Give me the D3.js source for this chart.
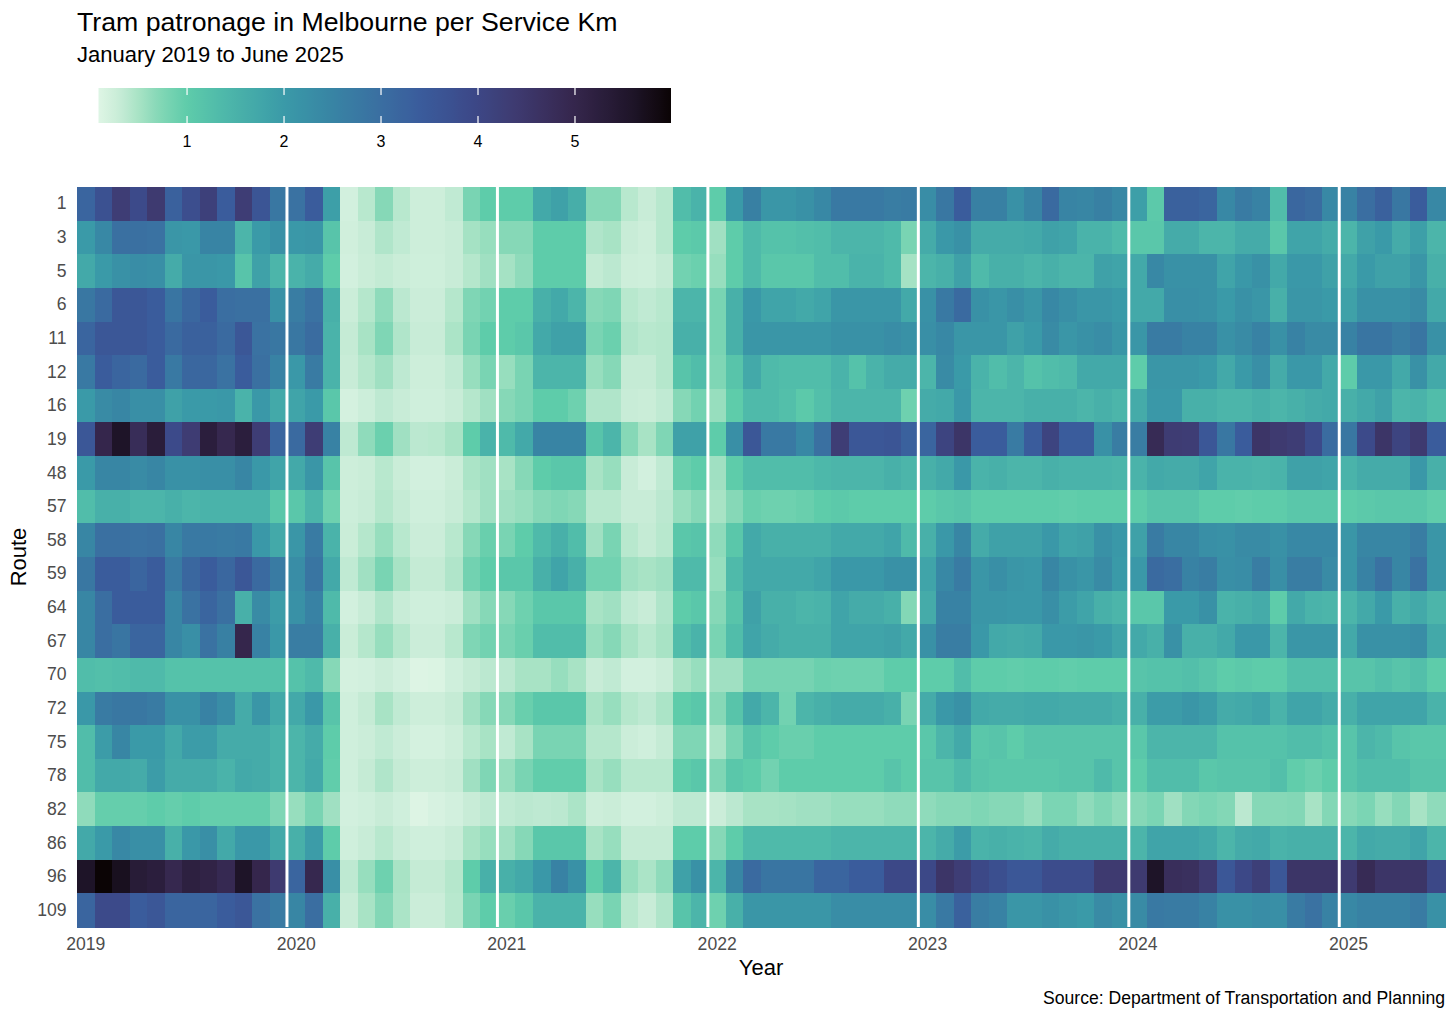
<!DOCTYPE html>
<html><head><meta charset="utf-8">
<script src="https://cdn.jsdelivr.net/npm/d3@7"></script>
<style>
body{margin:0;background:#ffffff;}
svg text{font-family:"Liberation Sans", Arial, Helvetica, sans-serif;}
</style></head>
<body>
<svg id="chart" width="1456" height="1019"></svg>
<script>
// ---------------- data ----------------
const routes = ["1","3","5","6","11","12","16","19","48","57","58","59","64","67","70","72","75","78","82","86","96","109"];
const yearLabels = ["2019","2020","2021","2022","2023","2024","2025"];
const legendTicks = [1, 2, 3, 4, 5];

// monthly values Jan 2019 .. Jun 2025 (78 months) per route
const route1 = [3.2,3.7,4.3,3.9,4.4,3.3,3.8,4.2,3.4,4.3,3.6,2.8, 2.9,3.4,1.9,0.2,0.4,0.7,0.4,0.25,0.25,0.35,0.8,1.0, 1.0,1.0,1.7,1.85,1.6,0.7,0.7,0.4,0.3,0.4,1.3,1.5, 1.0,2.0,2.6,2.1,2.1,2.2,2.4,2.75,2.75,2.75,2.65,2.7, 2.3,2.8,3.4,2.6,2.6,2.2,2.5,3.1,2.5,2.45,2.6,2.4, 1.9,1.05,3.3,3.3,3.2,2.4,2.7,2.55,1.3,3.15,3.05,2.4, 2.55,3.0,3.3,2.8,3.4,2.4];
const route3 = [2.0,2.4,2.95,2.95,2.9,2.1,2.05,2.5,2.5,1.45,2.0,2.2, 2.05,2.1,1.15,0.22,0.3,0.45,0.35,0.25,0.25,0.3,0.52,0.6, 0.7,0.7,1.0,1.0,1.0,0.45,0.5,0.3,0.25,0.4,1.0,1.05, 0.55,1.0,1.35,1.2,1.2,1.25,1.3,1.45,1.45,1.45,1.35,0.8, 1.65,2.05,2.2,1.65,1.65,1.65,1.7,1.85,1.8,1.5,1.5,1.35, 1.1,1.1,1.65,1.65,1.45,1.45,1.65,1.65,1.1,1.8,1.8,1.65, 1.45,1.85,2.0,1.65,1.9,1.45];
const route5 = [1.7,2.0,2.2,2.3,2.25,1.65,2.1,2.1,2.05,1.15,1.85,1.45, 1.5,1.65,1.0,0.2,0.28,0.33,0.28,0.24,0.24,0.3,0.42,0.55, 0.52,0.65,1.0,1.0,1.0,0.33,0.38,0.25,0.24,0.32,0.85,0.9, 0.6,1.0,1.35,1.1,1.1,1.1,1.3,1.3,1.5,1.5,1.35,0.52, 1.45,1.55,1.85,1.35,1.55,1.55,1.45,1.55,1.45,1.45,1.85,1.8, 1.7,2.4,2.2,2.2,2.2,1.8,2.05,2.2,1.7,2.05,2.05,1.85, 1.7,2.0,1.85,1.85,2.1,1.55];
const route6 = [2.8,3.1,3.55,3.55,3.4,2.85,3.15,3.4,3.0,2.95,2.95,2.2, 2.65,2.9,1.55,0.27,0.42,0.65,0.38,0.27,0.27,0.42,0.75,0.85, 1.0,1.0,1.55,1.7,1.45,0.7,0.75,0.4,0.35,0.4,1.45,1.45, 0.8,1.55,2.05,1.8,1.8,1.7,1.8,2.1,2.1,2.1,2.1,1.7, 2.2,2.75,3.1,2.2,2.1,2.25,2.1,2.4,2.25,2.1,2.1,2.0, 1.7,1.7,2.25,2.25,2.2,2.0,2.2,2.1,1.55,2.1,2.1,2.0, 1.85,2.2,2.2,2.2,2.35,1.7];
const route11 = [3.2,3.55,3.55,3.55,3.4,3.1,3.3,3.3,3.1,3.55,2.9,2.8, 2.8,3.05,1.5,0.32,0.5,0.75,0.45,0.3,0.3,0.48,0.8,1.0, 1.0,1.1,1.7,1.85,1.85,0.8,0.9,0.45,0.4,0.42,1.55,1.55, 0.8,1.55,2.1,2.1,2.1,2.1,2.1,2.2,2.2,2.2,2.3,2.2, 2.25,2.4,2.1,2.1,2.1,1.85,2.0,2.35,2.1,2.2,2.3,2.1, 2.1,2.7,2.7,2.55,2.55,2.2,2.35,2.55,2.2,2.55,2.35,2.35, 2.55,2.85,2.85,2.65,2.85,2.2];
const route12 = [2.75,3.4,3.2,3.1,3.4,2.75,3.15,3.15,2.9,3.4,2.95,2.55, 2.05,2.7,1.5,0.3,0.42,0.55,0.36,0.25,0.25,0.35,0.6,0.8, 0.6,0.8,1.45,1.45,1.45,0.6,0.7,0.32,0.32,0.42,1.15,1.3, 0.75,1.15,1.7,1.35,1.3,1.3,1.3,1.5,1.2,1.5,1.65,1.65, 1.45,2.35,2.0,1.5,1.3,1.45,1.2,1.3,1.35,1.7,1.7,1.7, 1.0,2.1,2.1,2.1,2.0,1.7,2.0,2.25,1.65,2.05,2.05,1.7, 1.0,2.05,2.05,1.7,2.2,1.7];
const route16 = [2.0,2.35,2.45,2.25,2.25,1.85,2.0,2.0,2.05,1.5,2.05,1.7, 1.8,2.0,1.1,0.18,0.26,0.36,0.3,0.23,0.23,0.3,0.42,0.55, 0.7,0.8,1.0,1.0,0.88,0.45,0.45,0.3,0.28,0.35,0.7,0.85, 0.6,1.0,1.35,1.35,1.25,1.05,1.25,1.45,1.45,1.45,1.45,0.88, 1.65,1.7,2.05,1.45,1.45,1.45,1.55,1.55,1.55,1.45,1.55,1.45, 1.65,2.05,2.05,1.55,1.55,1.45,1.45,1.55,1.45,1.55,1.65,1.7, 1.55,1.7,1.85,1.45,1.5,1.3];
const route19 = [3.55,5.0,5.6,4.8,5.3,3.9,4.35,5.25,4.95,5.25,4.3,3.2, 3.1,4.3,2.55,0.36,0.65,0.9,0.55,0.38,0.4,0.5,1.0,1.5, 1.35,1.7,2.5,2.5,2.5,1.15,1.45,0.7,0.5,0.75,1.85,1.85, 1.0,2.25,3.55,2.75,2.75,2.4,2.95,4.3,3.55,3.55,3.6,3.3, 3.2,4.1,4.55,3.4,3.4,2.7,3.4,4.1,3.4,3.4,2.2,2.65, 2.65,4.85,4.35,4.3,3.55,2.8,3.4,4.55,4.4,4.3,3.9,3.05, 2.8,3.9,4.55,4.1,4.4,3.4];
const route48 = [2.0,2.45,2.45,2.35,2.45,2.2,2.2,2.25,2.25,2.45,2.05,1.8, 1.7,2.1,1.15,0.25,0.28,0.4,0.28,0.2,0.2,0.28,0.48,0.55, 0.5,0.7,1.0,1.1,1.1,0.5,0.6,0.3,0.2,0.35,0.92,1.0, 0.55,1.0,1.3,1.3,1.3,1.3,1.4,1.45,1.45,1.45,1.55,1.45, 1.55,1.7,2.05,1.5,1.55,1.45,1.45,1.55,1.5,1.5,1.5,1.45, 1.5,1.7,1.65,1.65,1.8,1.5,1.5,1.45,1.5,1.85,1.85,1.8, 1.5,1.65,1.65,1.65,2.05,1.55];
const route57 = [1.3,1.55,1.55,1.45,1.45,1.55,1.45,1.5,1.5,1.5,1.5,1.1, 1.1,1.45,0.88,0.26,0.3,0.42,0.32,0.23,0.23,0.3,0.42,0.55, 0.55,0.6,0.7,0.75,0.7,0.4,0.4,0.3,0.3,0.38,0.6,0.7, 0.5,0.7,0.92,0.88,0.88,0.92,1.0,1.05,1.0,1.0,1.0,1.0, 1.0,1.1,1.15,1.0,1.0,1.0,1.0,1.0,0.98,1.0,1.0,1.0, 1.0,1.15,1.15,1.15,1.0,1.0,0.98,1.0,1.0,1.1,1.1,1.1, 1.0,1.05,1.1,1.1,1.1,0.98];
const route58 = [2.45,2.95,2.95,2.9,2.95,2.45,2.75,2.75,2.7,2.75,2.05,1.7, 2.1,2.7,1.5,0.28,0.42,0.6,0.4,0.27,0.27,0.4,0.7,0.92, 0.8,1.0,1.35,1.55,1.3,0.55,0.8,0.4,0.32,0.4,1.1,1.15, 0.65,1.1,1.7,1.55,1.55,1.55,1.55,1.7,1.7,1.7,1.8,1.35, 1.55,2.05,2.45,1.65,1.85,1.85,1.85,2.05,1.8,1.85,2.2,2.05, 1.85,2.7,2.45,2.45,2.25,2.2,2.35,2.35,2.2,2.4,2.4,2.4, 2.1,2.45,2.45,2.45,2.65,2.1];
const route59 = [2.8,3.4,3.4,3.2,3.4,2.7,3.15,3.4,3.15,3.55,3.1,2.7, 2.3,2.85,1.7,0.35,0.55,0.8,0.5,0.32,0.32,0.45,0.85,1.0, 1.1,1.1,1.55,1.8,1.55,0.85,0.85,0.55,0.5,0.55,1.35,1.35, 0.6,1.35,1.7,1.7,1.7,1.7,1.8,2.05,2.05,2.05,2.2,2.2, 1.8,2.4,2.7,2.1,2.25,2.1,2.05,2.45,2.2,2.1,2.35,2.0, 2.05,3.1,3.0,2.55,2.65,2.25,2.3,2.65,2.25,2.65,2.65,2.35, 2.1,2.55,2.9,2.45,2.9,2.1];
const route64 = [2.45,3.0,3.4,3.4,3.4,2.45,2.9,3.2,2.95,1.55,2.35,1.95, 2.2,2.55,1.35,0.2,0.3,0.45,0.3,0.23,0.23,0.27,0.55,0.7, 0.7,0.88,1.1,1.1,1.1,0.5,0.55,0.35,0.3,0.45,1.0,1.1, 0.7,1.15,1.85,1.55,1.55,1.45,1.5,1.8,1.65,1.65,1.55,0.72, 1.65,2.55,2.55,2.1,2.1,2.05,2.05,2.25,1.95,1.8,1.55,1.45, 1.1,1.1,2.0,2.0,2.2,1.5,1.55,1.65,1.0,1.7,1.5,1.45, 1.45,1.7,2.0,1.55,1.7,1.45];
const route67 = [2.45,3.0,2.85,3.2,3.2,2.45,2.25,2.9,2.6,5.0,2.55,2.05, 2.65,2.65,1.55,0.28,0.42,0.6,0.42,0.27,0.27,0.4,0.75,0.85, 0.8,0.92,1.3,1.3,1.3,0.6,0.7,0.5,0.4,0.5,1.3,1.5, 0.8,1.3,1.8,1.65,1.55,1.55,1.55,1.8,1.8,1.8,1.85,1.7, 2.2,2.65,2.65,2.05,1.7,1.65,1.7,2.05,2.05,2.1,2.0,1.8, 1.7,1.55,2.2,1.55,1.55,1.7,2.05,2.05,1.45,2.1,2.1,2.1, 1.7,2.2,2.2,2.2,2.3,1.7];
const route70 = [1.3,1.25,1.3,1.35,1.35,1.2,1.2,1.2,1.2,1.2,1.2,1.2, 1.2,1.35,0.7,0.18,0.2,0.27,0.2,0.1,0.12,0.23,0.32,0.38, 0.38,0.5,0.5,0.6,0.5,0.3,0.35,0.2,0.2,0.27,0.5,0.6, 0.55,0.55,0.82,0.82,0.82,0.82,0.9,0.88,0.88,0.88,1.0,1.0, 1.0,1.0,1.3,1.0,1.0,0.98,1.0,1.0,0.98,1.0,1.0,1.0, 1.15,1.2,1.2,1.25,1.15,1.0,1.05,1.0,1.0,1.25,1.25,1.25, 1.15,1.15,1.25,1.15,1.25,1.0];
const route72 = [2.05,2.7,2.8,2.8,2.7,2.2,2.2,2.55,2.3,1.65,2.1,1.7, 1.7,2.05,1.15,0.23,0.32,0.5,0.35,0.25,0.25,0.32,0.55,0.7, 0.7,0.92,1.1,1.1,1.1,0.5,0.6,0.42,0.36,0.48,1.0,1.1, 0.7,1.15,1.7,1.45,0.85,1.45,1.55,1.65,1.65,1.65,1.55,0.8, 1.65,2.05,2.2,1.7,1.65,1.65,1.7,1.7,1.65,1.65,1.65,1.55, 1.55,1.95,1.95,2.1,1.95,1.65,1.7,1.8,1.5,1.8,1.8,1.65, 1.55,1.8,1.8,1.8,1.8,1.5];
const route75 = [1.3,1.95,2.45,2.0,2.0,1.7,1.95,1.95,1.65,1.65,1.65,1.5, 1.45,1.65,1.0,0.23,0.27,0.35,0.27,0.18,0.18,0.25,0.4,0.5, 0.35,0.5,0.8,0.8,0.8,0.42,0.42,0.27,0.23,0.32,0.75,0.75, 0.48,0.8,1.15,1.0,0.92,0.92,1.0,1.0,1.0,1.0,1.0,1.0, 1.1,1.45,1.7,1.1,1.15,1.0,1.15,1.15,1.15,1.15,1.15,1.15, 1.1,1.45,1.45,1.45,1.45,1.2,1.2,1.2,1.2,1.3,1.3,1.2, 1.15,1.45,1.35,1.15,1.1,1.1];
const route78 = [1.3,1.7,1.7,1.65,1.95,1.65,1.65,1.65,1.5,1.7,1.65,1.5, 1.45,1.7,0.98,0.23,0.32,0.45,0.32,0.25,0.25,0.3,0.55,0.75, 0.6,0.8,0.98,0.98,0.98,0.5,0.6,0.4,0.4,0.4,1.0,1.1, 0.75,1.1,1.0,0.85,1.0,1.0,1.0,1.0,1.0,1.0,1.15,1.0, 1.15,1.15,1.35,1.15,1.1,1.1,1.1,1.1,1.15,1.15,1.35,1.15, 1.0,1.3,1.3,1.3,1.1,1.15,1.15,1.15,1.25,0.98,0.9,1.0, 1.15,1.3,1.3,1.3,1.15,1.15];
const route82 = [0.65,0.95,0.95,0.95,1.0,0.95,1.0,0.95,0.95,0.95,0.95,0.75, 0.6,0.8,0.55,0.2,0.23,0.3,0.23,0.1,0.15,0.2,0.3,0.36, 0.35,0.38,0.36,0.38,0.48,0.25,0.28,0.2,0.2,0.25,0.36,0.36, 0.27,0.38,0.5,0.5,0.52,0.55,0.55,0.6,0.6,0.6,0.65,0.65, 0.65,0.7,0.7,0.75,0.7,0.7,0.6,0.78,0.78,0.65,0.75,0.65, 0.7,0.78,0.55,0.72,0.78,0.72,0.38,0.7,0.7,0.72,0.5,0.72, 0.7,0.78,0.6,0.72,0.5,0.65];
const route86 = [1.7,2.0,2.4,2.25,2.25,1.55,2.05,2.25,1.7,2.05,2.05,1.7, 1.55,1.95,1.0,0.23,0.3,0.4,0.3,0.23,0.23,0.3,0.5,0.6, 0.55,0.7,1.1,1.1,1.1,0.5,0.6,0.32,0.32,0.32,1.0,1.0, 0.7,1.0,1.35,1.35,1.35,1.35,1.35,1.45,1.45,1.45,1.45,1.45, 1.45,1.65,1.95,1.5,1.55,1.5,1.45,1.65,1.55,1.55,1.55,1.55, 1.45,1.8,1.8,1.8,1.7,1.45,1.65,1.7,1.5,1.55,1.55,1.55, 1.45,1.7,1.65,1.65,1.8,1.45];
const route96 = [5.6,6.0,5.7,5.35,5.25,4.95,5.2,5.1,4.9,5.6,5.0,4.4, 3.2,4.95,2.25,0.36,0.6,0.88,0.5,0.32,0.32,0.42,1.0,1.55, 1.55,1.7,2.05,2.55,2.2,1.0,1.45,0.6,0.48,0.65,1.85,2.2, 1.45,2.45,3.1,2.85,2.85,2.85,3.2,3.2,3.4,3.4,3.95,3.95, 3.95,4.55,4.3,3.95,3.75,3.55,3.55,3.85,3.85,3.85,4.4,4.4, 4.4,5.6,4.75,4.7,4.4,3.55,3.95,4.25,3.55,4.55,4.55,4.55, 4.4,4.85,4.55,4.55,4.55,3.95];
const route109 = [3.2,3.9,3.9,3.4,3.55,3.2,3.2,3.2,3.4,3.55,2.9,2.7, 2.45,3.0,1.55,0.3,0.5,0.72,0.48,0.27,0.27,0.4,0.8,1.0, 0.92,1.1,1.5,1.5,1.5,0.6,0.8,0.4,0.3,0.45,1.15,1.45, 0.88,1.55,2.1,2.1,2.1,2.1,2.1,2.3,2.3,2.3,2.3,2.3, 2.3,2.75,3.3,2.65,2.55,2.1,2.1,2.2,2.1,2.0,2.35,2.2, 2.35,2.75,2.7,2.7,2.55,2.2,2.2,2.3,2.25,2.7,2.9,2.55, 2.4,2.55,2.55,2.55,2.7,2.2];

const routeSeries = [route1,route3,route5,route6,route11,route12,route16,route19,route48,route57,route58,route59,route64,route67,route70,route72,route75,route78,route82,route86,route96,route109];

// colour scale stops (mako, reversed)
const colourStops = [0.087,0.3,0.5,0.7,1.0,1.35,1.65,2.0,2.5,3.0,3.4,3.9,4.4,5.0,5.6,5.99];
const colourValues = ["#DEF5E5","#C8ECD7","#A8E3C5","#86D8B7","#5ECCAA","#4FBAAA","#45ABA9","#3A9AA8","#3884A4","#3A6EA1","#3A5C9C","#3C4A8A","#3E3A70","#35264C","#1E1428","#0B0405"];

// ---------------- drawing ----------------
const svg = d3.select("#chart");
const nMonths = 78;
const x = d3.scaleBand().domain(d3.range(nMonths)).range([77, 1445]).padding(0);
const y = d3.scaleBand().domain(routes).range([187, 927]).padding(0);
const color = d3.scaleLinear().domain(colourStops).range(colourValues).interpolate(d3.interpolateRgb).clamp(true);

const cells = [];
routes.forEach((r, ri) => routeSeries[ri].forEach((v, m) => cells.push({route: r, m: m, v: v})));

svg.append("g").attr("shape-rendering","crispEdges")
  .selectAll("rect").data(cells).join("rect")
  .attr("x", d => x(d.m))
  .attr("y", d => y(d.route))
  .attr("width", x.bandwidth() + 0.6)
  .attr("height", y.bandwidth() + 0.6)
  .attr("fill", d => color(d.v));

// year separator lines
svg.append("g").selectAll("line").data(d3.range(1, 7)).join("line")
  .attr("x1", k => x(k * 12) - 0.5).attr("x2", k => x(k * 12) - 0.5)
  .attr("y1", 187).attr("y2", 927)
  .attr("stroke", "#ffffff").attr("stroke-width", 3);

// x axis
const xAxis = svg.append("g").attr("transform", "translate(0,927)")
  .call(d3.axisBottom(x).tickValues(d3.range(0, nMonths, 12)).tickFormat(i => yearLabels[i / 12]).tickSize(0).tickPadding(11));
xAxis.select(".domain").remove();
xAxis.selectAll("text").attr("font-size", "17.6px").attr("fill", "#4D4D4D").style("font-family", "'Liberation Sans', Arial, sans-serif");

// y axis
const yAxis = svg.append("g").attr("transform", "translate(77,0)")
  .call(d3.axisLeft(y).tickSize(0).tickPadding(10.5));
yAxis.select(".domain").remove();
yAxis.selectAll("text").attr("font-size", "17.6px").attr("fill", "#4D4D4D").style("font-family", "'Liberation Sans', Arial, sans-serif");

// axis titles
svg.append("text").attr("x", 761).attr("y", 975).attr("text-anchor", "middle")
  .attr("font-size", "22px").attr("fill", "#000").text("Year");
svg.append("text").attr("transform", "translate(26,557) rotate(-90)").attr("text-anchor", "middle")
  .attr("font-size", "22px").attr("fill", "#000").text("Route");

// titles
svg.append("text").attr("x", 77).attr("y", 31).attr("font-size", "26.7px").attr("fill", "#000")
  .text("Tram patronage in Melbourne per Service Km");
svg.append("text").attr("x", 77).attr("y", 62).attr("font-size", "22px").attr("fill", "#000")
  .text("January 2019 to June 2025");
svg.append("text").attr("x", 1445).attr("y", 1004).attr("text-anchor", "end").attr("font-size", "17.6px").attr("fill", "#000")
  .text("Source: Department of Transportation and Planning");

// legend colourbar
const lx = d3.scaleLinear().domain([0.087, 5.99]).range([98.5, 671]);
const defs = svg.append("defs");
const grad = defs.append("linearGradient").attr("id", "lgrad").attr("x1", "0%").attr("x2", "100%").attr("y1", "0%").attr("y2", "0%");
d3.range(0, 101).forEach(i => {
  const t = i / 100;
  grad.append("stop").attr("offset", (t * 100) + "%").attr("stop-color", color(lx.invert(98.5 + t * (671 - 98.5))));
});
svg.append("rect").attr("x", 98.5).attr("y", 88).attr("width", 671 - 98.5).attr("height", 35).attr("fill", "url(#lgrad)");
const lt = svg.append("g");
lt.selectAll("line.t1").data(legendTicks).join("line").attr("class","t1")
  .attr("x1", d => lx(d)).attr("x2", d => lx(d)).attr("y1", 88).attr("y2", 95)
  .attr("stroke", "#fff").attr("stroke-width", 1.2);
lt.selectAll("line.t2").data(legendTicks).join("line").attr("class","t2")
  .attr("x1", d => lx(d)).attr("x2", d => lx(d)).attr("y1", 116).attr("y2", 123)
  .attr("stroke", "#fff").attr("stroke-width", 1.2);
lt.selectAll("text").data(legendTicks).join("text")
  .attr("x", d => lx(d)).attr("y", 147).attr("text-anchor", "middle")
  .attr("font-size", "16px").attr("fill", "#000").text(d => d);
</script>
</body></html>
